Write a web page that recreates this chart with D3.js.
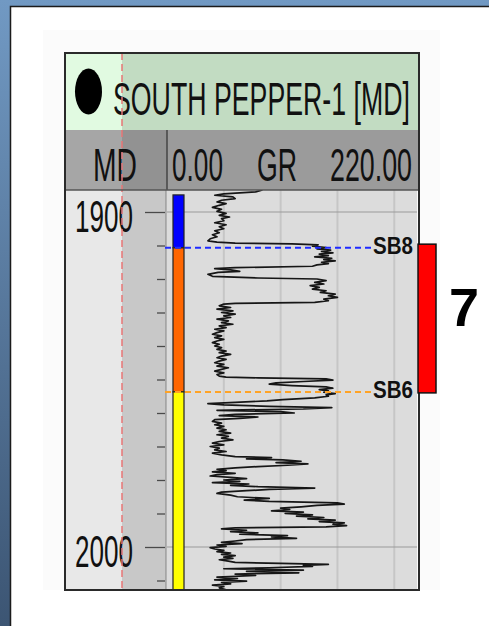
<!DOCTYPE html>
<html>
<head>
<meta charset="utf-8">
<script src="https://cdn.jsdelivr.net/npm/d3@7"></script>
<style>
  html, body { margin: 0; padding: 0; background: #fff; }
  svg { display: block; }
  text { font-family: "Liberation Sans Narrow", "Arial Narrow", "Liberation Sans", Arial, sans-serif; }
</style>
</head>
<body>
<script>
// ---- Well and log data ----
const wellName = "SOUTH PEPPER-1 [MD]";
const depthLabelTicks = [1900, 2000];
const depthMinorTicks = [1910, 1920, 1930, 1940, 1950, 1960, 1970, 1980, 1990, 2010];
const grRange = [0, 220];
const grGrid = [50, 100, 150, 200];
const grHeader = ["0.00", "GR", "220.00"];

// Formation tops (m MD)
const topNames = ["SB8", "SB6"];
const topDepths = [1910.7, 1953.7];
const topColors = ["#1f2bff", "#ffa326"];

// Zone column intervals
const zoneTops = [1894.9, 1910.7, 1953.7];
const zoneBases = [1910.7, 1953.7, 2014];
const zoneColors = ["#0000ff", "#ff6600", "#ffff00"];

// Highlighted interval
const intervalLabel = "7";
const intervalTop = 1909.6;
const intervalBase = 1954.0;

// Gamma ray curve: depth (m MD) and GR (API)
const grDepth = [
  1893.4, 1894.0, 1894.6, 1895.0, 1895.5, 1896.0, 1896.5, 1897.0, 1897.5, 1898.0,
  1898.6, 1899.2, 1899.8, 1900.4, 1901.0, 1901.5, 1902.0, 1902.6, 1903.2, 1903.8,
  1904.4, 1905.0, 1905.6, 1906.2, 1906.8, 1907.4, 1908.0, 1908.6, 1909.0, 1909.3,
  1909.5, 1909.8, 1910.2, 1910.6, 1911.0, 1911.4, 1911.8, 1912.2, 1912.6, 1913.0,
  1913.4, 1913.8, 1914.2, 1914.6, 1915.0, 1915.4, 1915.8, 1916.2, 1916.6, 1916.9,
  1917.3, 1917.7, 1918.0, 1918.6, 1919.2, 1919.7, 1920.0, 1920.5, 1921.0, 1921.5,
  1922.0, 1922.5, 1923.0, 1923.5, 1924.0, 1924.5, 1925.0, 1925.5, 1926.0, 1926.5,
  1927.0, 1927.3, 1927.5, 1928.0, 1928.5, 1929.0, 1929.5, 1930.0, 1930.5, 1931.0,
  1931.5, 1932.0, 1932.5, 1933.0, 1933.5, 1934.0, 1934.5, 1935.0, 1935.5, 1936.0,
  1936.5, 1937.0, 1937.5, 1938.0, 1938.5, 1939.0, 1939.5, 1940.0, 1940.5, 1941.0,
  1941.5, 1942.0, 1942.5, 1943.0, 1943.5, 1944.0, 1944.5, 1945.0, 1945.5, 1946.0,
  1946.5, 1947.0, 1947.5, 1948.0, 1948.5, 1949.0, 1949.3, 1949.5, 1949.8, 1950.2,
  1950.6, 1951.0, 1951.4, 1951.8, 1952.2, 1952.6, 1953.0, 1953.4, 1953.8, 1954.2,
  1954.6, 1955.0, 1955.5, 1956.0, 1956.4, 1956.8, 1957.2, 1957.6, 1958.0, 1958.4,
  1958.8, 1959.2, 1959.6, 1960.0, 1960.4, 1960.8, 1961.2, 1961.6, 1962.0, 1962.5,
  1963.0, 1963.5, 1964.0, 1964.5, 1965.0, 1965.5, 1966.0, 1966.5, 1967.0, 1967.5,
  1968.0, 1968.5, 1969.0, 1969.5, 1970.0, 1970.5, 1971.0, 1971.5, 1972.0, 1972.5,
  1973.0, 1973.3, 1973.7, 1974.0, 1974.4, 1974.8, 1975.2, 1975.6, 1976.0, 1976.4,
  1976.8, 1977.2, 1977.6, 1978.0, 1978.4, 1978.8, 1979.2, 1979.6, 1980.0, 1980.4,
  1980.8, 1981.2, 1981.6, 1982.0, 1982.4, 1982.8, 1983.2, 1983.6, 1984.0, 1984.5,
  1985.0, 1985.5, 1986.0, 1986.4, 1986.8, 1987.2, 1987.6, 1988.0, 1988.4, 1988.8,
  1989.2, 1989.6, 1990.0, 1990.4, 1990.8, 1991.2, 1991.6, 1992.0, 1992.4, 1992.8,
  1993.2, 1993.6, 1994.0, 1994.3, 1994.6, 1995.0, 1995.4, 1995.8, 1996.2, 1996.6,
  1997.0, 1997.4, 1997.8, 1998.2, 1998.6, 1999.0, 1999.4, 1999.8, 2000.2, 2000.6,
  2001.0, 2001.4, 2001.8, 2002.2, 2002.6, 2003.0, 2003.4, 2003.8, 2004.2, 2004.6,
  2004.9, 2005.2, 2005.5, 2005.8, 2006.2, 2006.5, 2006.9, 2007.3, 2007.7, 2008.1,
  2008.5, 2009.0, 2009.4, 2009.8, 2010.2, 2010.6, 2011.0, 2011.4, 2011.8, 2012.2,
  2012.8
];
const grValue = [
  84, 78, 50, 42, 58, 60, 48, 44, 52, 46,
  40, 48, 44, 52, 46, 55, 48, 50, 42, 52,
  46, 50, 42, 46, 40, 44, 38, 36, 44, 60,
  110, 133, 128, 140, 132, 144, 136, 146, 134, 142,
  130, 145, 138, 148, 136, 142, 132, 128, 60, 42,
  56, 64, 45, 36, 40, 80, 132, 140, 130, 138,
  126, 134, 128, 140, 135, 148, 142, 150, 138, 142,
  130, 60, 50, 46, 56, 44, 58, 48, 60, 50,
  56, 44, 54, 48, 58, 46, 52, 42, 50, 44,
  40, 48, 42, 50, 44, 40, 46, 42, 48, 44,
  52, 46, 56, 48, 44, 52, 46, 42, 50, 44,
  54, 48, 42, 50, 44, 46, 52, 80, 140, 146,
  120, 96, 90, 110, 140, 146, 134, 142, 138, 148,
  140, 142, 130, 102, 88, 60, 36, 50, 90, 145,
  120, 44, 100, 112, 60, 46, 80, 64, 42, 40,
  48, 42, 50, 44, 52, 46, 56, 44, 54, 48,
  58, 46, 40, 50, 38, 46, 42, 52, 40, 48,
  60, 92, 70, 102, 118, 96, 124, 106, 80, 60,
  44, 52, 40, 60, 44, 38, 56, 70, 50, 64,
  40, 72, 56, 80, 130, 90, 70, 48, 44, 56,
  62, 90, 68, 90, 150, 156, 132, 118, 100, 108,
  92, 120, 104, 128, 114, 138, 124, 148, 134, 156,
  146, 158, 140, 60, 48, 70, 56, 80, 64, 106,
  92, 114, 70, 60, 48, 66, 44, 52, 38, 42,
  50, 44, 56, 48, 60, 50, 58, 46, 54, 60,
  100, 142, 120, 128, 90, 50, 120, 70, 116, 60,
  78, 44, 62, 42, 70, 48, 56, 40, 50, 46,
  52
];

// ---- Layout ----
const W = 489, H = 626;
const frame = { x0: 65, x1: 419, y0: 53, y1: 590 };
const head1 = { y0: 53, y1: 130 };
const head2 = { y0: 130, y1: 190 };
const mdTrack = { x0: 65, xSplit: 122, x1: 166 };
const grTrack = { x0: 167, x1: 417 };
const zoneCol = { x0: 173, x1: 184 };

const svg = d3.select("body").append("svg")
  .attr("width", W).attr("height", H)
  .attr("viewBox", `0 0 ${W} ${H}`);

// Places a condensed text: left edge at x, baseline at y, squeezed to the given width
function fitText(parent, str, x, y, width, size, attrs = {}) {
  const t = parent.append("text").attr("font-size", size).attr("fill", "#111").text(str);
  Object.entries(attrs).forEach(([k, v]) => t.attr(k, v));
  const natural = t.node().getComputedTextLength();
  t.attr("transform", `translate(${x},${y}) scale(${width / natural},1)`);
  return t;
}

// Window background and white page
const defs = svg.append("defs");
const bg = defs.append("linearGradient").attr("id", "bgGrad")
  .attr("x1", 0).attr("y1", 0).attr("x2", 0).attr("y2", 1);
bg.append("stop").attr("offset", "0%").attr("stop-color", "#7199c3");
bg.append("stop").attr("offset", "100%").attr("stop-color", "#3c5573");
svg.append("rect").attr("width", W).attr("height", H).attr("fill", "url(#bgGrad)");
svg.append("rect").attr("x", 10).attr("y", 6).attr("width", W - 10).attr("height", H - 6).attr("fill", "#ffffff");
svg.append("path").attr("d", `M10.5,${H} V6.5 H${W}`).attr("fill", "none")
  .attr("stroke", "#1b1b1b").attr("stroke-width", 1.5);
svg.append("rect").attr("x", 43).attr("y", 30).attr("width", 397).attr("height", 560).attr("fill", "#fbfbfb");

// Scales
const y = d3.scaleLinear().domain([1900, 2000]).range([212, 547]);
const x = d3.scaleLinear().domain(grRange).range([grTrack.x0, grTrack.x1]);

// Header row 1
svg.append("rect").attr("x", frame.x0).attr("y", head1.y0).attr("width", mdTrack.xSplit - frame.x0)
  .attr("height", head1.y1 - head1.y0).attr("fill", "#e1fae1");
svg.append("rect").attr("x", mdTrack.xSplit).attr("y", head1.y0).attr("width", frame.x1 - mdTrack.xSplit)
  .attr("height", head1.y1 - head1.y0).attr("fill", "#c2dcc2");
svg.append("ellipse").attr("cx", 88.5).attr("cy", 91.5).attr("rx", 13.5).attr("ry", 23).attr("fill", "#000");
fitText(svg, wellName, 113, 115, 297, 46);

// Header row 2
svg.append("rect").attr("x", frame.x0).attr("y", head2.y0).attr("width", mdTrack.xSplit - frame.x0)
  .attr("height", head2.y1 - head2.y0).attr("fill", "#a6a6a6");
svg.append("rect").attr("x", mdTrack.xSplit).attr("y", head2.y0).attr("width", grTrack.x0 - mdTrack.xSplit)
  .attr("height", head2.y1 - head2.y0).attr("fill", "#929292");
svg.append("rect").attr("x", grTrack.x0).attr("y", head2.y0).attr("width", frame.x1 - grTrack.x0)
  .attr("height", head2.y1 - head2.y0).attr("fill", "#9b9b9b");
svg.append("line").attr("x1", grTrack.x0).attr("x2", grTrack.x0).attr("y1", head2.y0).attr("y2", head2.y1)
  .attr("stroke", "#444").attr("stroke-width", 1.5);
fitText(svg, "MD", 93, 181, 44, 47);
fitText(svg, grHeader[0], 172, 181, 51, 47);
fitText(svg, grHeader[1], 257, 181, 40, 47);
fitText(svg, grHeader[2], 330, 181, 82, 47);

// MD track
svg.append("rect").attr("x", mdTrack.x0).attr("y", head2.y1).attr("width", mdTrack.xSplit - mdTrack.x0)
  .attr("height", frame.y1 - head2.y1).attr("fill", "#e8e8e8");
svg.append("rect").attr("x", mdTrack.xSplit).attr("y", head2.y1).attr("width", mdTrack.x1 - mdTrack.xSplit)
  .attr("height", frame.y1 - head2.y1).attr("fill", "#c8c8c8");

// GR track background and grid
svg.append("rect").attr("x", grTrack.x0).attr("y", head2.y1).attr("width", grTrack.x1 - grTrack.x0)
  .attr("height", frame.y1 - head2.y1).attr("fill", "#dcdcdc");
svg.append("g").selectAll("line").data(grGrid).join("line")
  .attr("x1", d => x(d)).attr("x2", d => x(d))
  .attr("y1", head2.y1).attr("y2", frame.y1)
  .attr("stroke", "#c6c6c6").attr("stroke-width", 2);
svg.append("g").selectAll("line").data(depthLabelTicks).join("line")
  .attr("x1", grTrack.x0).attr("x2", grTrack.x1)
  .attr("y1", d => y(d)).attr("y2", d => y(d))
  .attr("stroke", "#9a9a9a").attr("stroke-width", 1.2);
svg.append("line").attr("x1", mdTrack.x1).attr("x2", mdTrack.x1).attr("y1", head2.y1).attr("y2", frame.y1)
  .attr("stroke", "#9a9a9a").attr("stroke-width", 1.5);

// Depth axis ticks and labels
const minorAxis = d3.axisLeft(y).tickValues(depthMinorTicks).tickSize(8).tickFormat("");
const majorAxis = d3.axisLeft(y).tickValues(depthLabelTicks).tickSize(20).tickFormat("");
[minorAxis, majorAxis].forEach(ax => {
  const g = svg.append("g").attr("transform", `translate(${mdTrack.x1 - 1},0)`).call(ax);
  g.select(".domain").remove();
  g.selectAll(".tick line").attr("stroke", "#4a4a4a").attr("stroke-width", 1.3);
});
const depthLabels = svg.append("g");
depthLabelTicks.forEach(d => fitText(depthLabels, String(d), 75, y(d) + 20, 58, 45));

// Zone column
svg.append("g").selectAll("rect").data(zoneColors).join("rect")
  .attr("x", zoneCol.x0).attr("width", zoneCol.x1 - zoneCol.x0)
  .attr("y", (d, i) => y(zoneTops[i]))
  .attr("height", (d, i) => Math.min(y(zoneBases[i]), frame.y1) - y(zoneTops[i]))
  .attr("fill", d => d).attr("stroke", "#222").attr("stroke-width", 1.2);

// GR curve
defs.append("clipPath").attr("id", "grClip").append("rect")
  .attr("x", grTrack.x0).attr("y", head2.y1).attr("width", grTrack.x1 - grTrack.x0).attr("height", frame.y1 - head2.y1);
const line = d3.line().x(d => x(d[1])).y(d => y(d[0]));
svg.append("path").attr("clip-path", "url(#grClip)")
  .datum(d3.zip(grDepth, grValue))
  .attr("d", line).attr("fill", "none")
  .attr("stroke", "#161616").attr("stroke-width", 1.7).attr("stroke-linejoin", "round");

// Formation tops
const tops = svg.append("g");
tops.selectAll("line").data(topNames).join("line")
  .attr("x1", mdTrack.x1 - 1).attr("x2", 374)
  .attr("y1", (d, i) => y(topDepths[i])).attr("y2", (d, i) => y(topDepths[i]))
  .attr("stroke", (d, i) => topColors[i]).attr("stroke-width", 2).attr("stroke-dasharray", "6,4");
topNames.forEach((name, i) => fitText(tops, name, 373, y(topDepths[i]) + 6, 40, 24, {
  "font-family": "'Liberation Serif', 'Times New Roman', serif",
  "font-weight": "bold"
}));

// Red dashed depth-reference line
svg.append("line").attr("x1", mdTrack.xSplit).attr("x2", mdTrack.xSplit).attr("y1", frame.y0).attr("y2", frame.y1)
  .attr("stroke", "#e87575").attr("stroke-width", 1.5).attr("stroke-dasharray", "7,4");

// Frame lines
svg.append("line").attr("x1", frame.x0).attr("x2", frame.x1).attr("y1", head2.y1).attr("y2", head2.y1)
  .attr("stroke", "#555").attr("stroke-width", 1.5);
svg.append("rect").attr("x", frame.x0).attr("y", frame.y0).attr("width", frame.x1 - frame.x0)
  .attr("height", frame.y1 - frame.y0).attr("fill", "none").attr("stroke", "#2a2a2a").attr("stroke-width", 2);

// Interval bar and label
svg.append("rect").attr("x", 418).attr("width", 18)
  .attr("y", y(intervalTop)).attr("height", y(intervalBase) - y(intervalTop))
  .attr("fill", "#ff0000").attr("stroke", "#111").attr("stroke-width", 1.5);
svg.append("text").attr("x", 464).attr("y", 326).attr("text-anchor", "middle")
  .attr("font-family", "'Liberation Sans', Arial, sans-serif")
  .attr("font-weight", "bold").attr("font-size", 54).attr("fill", "#000")
  .text(intervalLabel);
</script>
</body>
</html>
